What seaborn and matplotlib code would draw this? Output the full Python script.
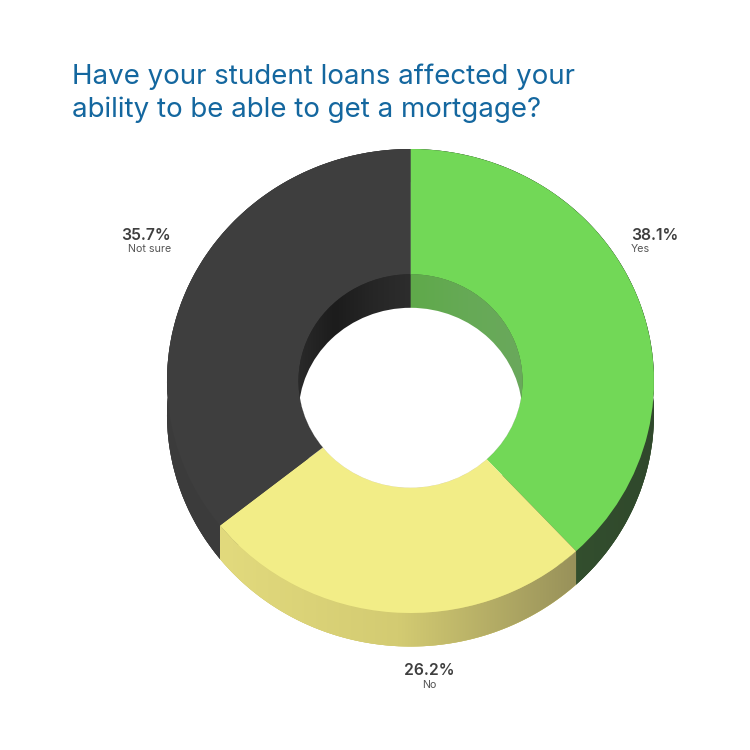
import numpy as np
import matplotlib
matplotlib.use("Agg")
import matplotlib.pyplot as plt
import seaborn as sns
from matplotlib.colors import LinearSegmentedColormap
from matplotlib.patches import Circle, PathPatch
from matplotlib.path import Path

# chart data
categories = ["Yes", "No", "Not sure"]
shares = [38.1, 26.2, 35.7]
share_labels = ["38.1%", "26.2%", "35.7%"]
title_lines = ["Have your student loans affected your", "ability to be able to get a mortgage?"]

top_colors = ["#72d857", "#f2ed87", "#3e3e3e"]
side_colors = ["#36552f", "#d3cb72", "#3b3b3b"]
wall_colors = ["#62a94f", "#d3cb72", "#282828"]

# gradients running left to right over the outer side and the hole wall
side_ramps = [["#3f7236", "#34522f", "#30482c"],
              ["#e2da7d", "#d3cb72", "#98915a"],
              ["#3c3c3c", "#3b3b3b", "#3a3a3a"]]
wall_ramps = [["#5fa94a", "#66aa56", "#6aa85c"],
              ["#d3cb72", "#d3cb72", "#d3cb72"],
              ["#2a2a2a", "#1c1c1c", "#262626", "#2d2d2d"]]

# pixel geometry of the tilted donut
CX, CY = 410.5, 381.0
RX, RY = 243.5, 232.0
HOLE = 112.0 / RX
DEPTH = 33.5 / RY
SIZE = 750


def band_path(theta1, theta2):
    # outer side of one slice, between the top face and the bottom face
    t = np.radians(np.linspace(theta1, theta2, 200))
    x, y = np.cos(t), np.sin(t)
    verts = np.r_[np.c_[x, y], np.c_[x, y - DEPTH][::-1], [[x[0], y[0]]]]
    return Path(verts, closed=True)


def add_ramp(ax, colors, clip):
    cmap = LinearSegmentedColormap.from_list("ramp", colors)
    pts = clip.get_patch_transform().transform(clip.get_path().vertices)
    x0, x1 = pts[:, 0].min(), pts[:, 0].max()
    y0, y1 = -1.3, 1.1
    im = ax.imshow(np.linspace(0, 1, 256)[None, :], cmap=cmap, extent=(x0, x1, y0, y1),
                   aspect="auto", zorder=clip.get_zorder() + 0.1, interpolation="bilinear")
    im.set_clip_path(clip)
    return im


sns.set_theme(style="white")
plt.rcParams["font.family"] = ["Inter", "DejaVu Sans"]

fig = plt.figure(figsize=(7.5, 7.5), dpi=100, facecolor="white")
ax = fig.add_axes([0, 0, 1, 1])
START = 90

# bottom face
side_wedges, _ = ax.pie(shares, colors=side_colors, startangle=START, counterclock=False,
                        center=(0, -DEPTH), radius=1,
                        wedgeprops=dict(width=1 - HOLE, linewidth=0, zorder=1))

# outer side
angles = np.cumsum([0] + shares) / sum(shares) * 360
for i, ramp in enumerate(side_ramps):
    patch = PathPatch(band_path(START - angles[i], START - angles[i + 1]),
                      transform=ax.transData, facecolor=side_colors[i], linewidth=0, zorder=2)
    ax.add_patch(patch)
    add_ramp(ax, ramp, patch)

# top face
top_wedges, _ = ax.pie(shares, colors=top_colors, startangle=START, counterclock=False,
                       radius=1, wedgeprops=dict(width=1 - HOLE, linewidth=0, zorder=4))

# inner wall of the hole, then the white opening shifted down by the depth
wall_wedges, _ = ax.pie(shares, colors=wall_colors, startangle=START, counterclock=False,
                        radius=HOLE, wedgeprops=dict(linewidth=0, zorder=5))
for wedge, ramp in zip(wall_wedges, wall_ramps):
    add_ramp(ax, ramp, wedge)

rim = Circle((0, 0), HOLE, transform=ax.transData, facecolor="none", linewidth=0)
ax.add_patch(rim)
opening = Circle((0, -DEPTH), HOLE, facecolor="white", linewidth=0, zorder=7)
ax.add_patch(opening)
opening.set_clip_path(rim)

ax.set_aspect("auto")
ax.set_xlim(-CX / RX, (SIZE - CX) / RX)
ax.set_ylim(-(SIZE - CY) / RY, CY / RY)
ax.axis("off")


def put_text(x, y, s, **kw):
    fig.text(x / SIZE, 1 - y / SIZE, s, va="baseline", **kw)


put_text(72, 84, title_lines[0], fontsize=19.95, color="#14679f")
put_text(72, 117, title_lines[1], fontsize=19.95, color="#14679f")

label_pos = [(631, 240, "left"), (429, 675, "center"), (171, 240, "right")]
for (x, y, ha), share, name in zip(label_pos, share_labels, categories):
    put_text(x, y, share, ha=ha, fontsize=11.3, fontweight="semibold", color="#3f3f3f")
    put_text(x, y + 12.5, name, ha=ha, fontsize=7.7, color="#555555")

fig.savefig("out.png", dpi=100, facecolor="white")
